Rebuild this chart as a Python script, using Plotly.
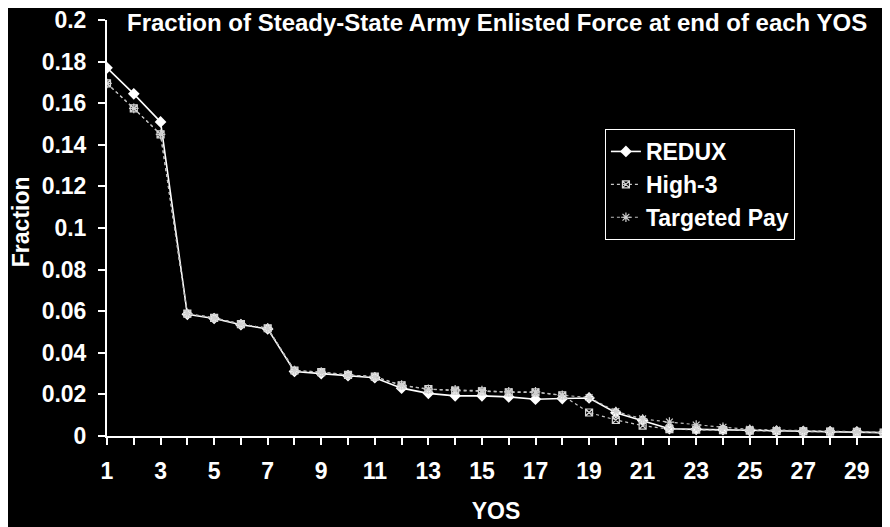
import plotly.graph_objects as go

# YOS categories
yos = list(range(1, 31))

redux = [0.177, 0.1645, 0.151, 0.0585, 0.0565, 0.0535, 0.0515, 0.031, 0.030, 0.029,
         0.028, 0.023, 0.0205, 0.0193, 0.0193, 0.0188, 0.0177, 0.018, 0.0183, 0.0112,
         0.0075, 0.0035, 0.0032, 0.0030, 0.0026, 0.0024, 0.0022, 0.0021, 0.002, 0.0016]
high3 = [0.1695, 0.1575, 0.145, 0.0588, 0.0568, 0.0538, 0.0518, 0.0315, 0.0307, 0.0294,
         0.0285, 0.0243, 0.0225, 0.0218, 0.0215, 0.021, 0.021, 0.0195, 0.0113, 0.0077,
         0.005, 0.0033, 0.003, 0.0028, 0.0026, 0.0024, 0.0022, 0.0021, 0.002, 0.0016]
targeted = [0.1695, 0.1575, 0.145, 0.0588, 0.0568, 0.0538, 0.0518, 0.0315, 0.0307, 0.0294,
            0.0285, 0.0245, 0.0225, 0.0222, 0.0218, 0.0212, 0.0212, 0.0196, 0.0185, 0.0118,
            0.0082, 0.0067, 0.0053, 0.0042, 0.0032, 0.0028, 0.0025, 0.0023, 0.0021, 0.0017]

xtick_text = [str(v) if v % 2 == 1 else "" for v in yos]
ytick_vals = [0, 0.02, 0.04, 0.06, 0.08, 0.1, 0.12, 0.14, 0.16, 0.18, 0.2]
ytick_text = ["0", "0.02", "0.04", "0.06", "0.08", "0.1", "0.12", "0.14", "0.16", "0.18", "0.2"]

FONT = "Liberation Sans, Arial, sans-serif"

fig = go.Figure()

fig.add_trace(go.Scatter(
    x=yos, y=redux, name="REDUX", mode="lines+markers",
    line=dict(color="white", width=1.6),
    marker=dict(symbol="diamond", size=9, color="white"),
))
fig.add_trace(go.Scatter(
    x=yos, y=high3, name="High-3", mode="lines+markers",
    line=dict(color="#c8c8c8", width=1.2, dash="dot"),
    marker=dict(symbol="square-x-open", size=7, color="#d8d8d8", line=dict(width=1.2)),
))
fig.add_trace(go.Scatter(
    x=yos, y=targeted, name="Targeted Pay", mode="lines+markers",
    line=dict(color="#bdbdbd", width=1.2, dash="dot"),
    marker=dict(symbol="asterisk-open", size=8, color="#d0d0d0", line=dict(width=1.2)),
))

# page body has an 8px margin, so the figure is a bit smaller than the window
fig.update_layout(
    width=882, height=519,
    paper_bgcolor="black", plot_bgcolor="black",
    margin=dict(l=99, r=5, t=12, b=91, autoexpand=False),
    font=dict(family=FONT, color="white", size=23, weight="bold"),
    showlegend=True,
    legend=dict(
        x=0.64, y=0.738, xanchor="left", yanchor="top",
        bgcolor="black", bordercolor="white", borderwidth=1,
        font=dict(family=FONT, size=23, color="white", weight="bold"),
        itemwidth=30, tracegroupgap=0,
    ),
    annotations=[
        dict(
            text="Fraction of Steady-State Army Enlisted Force at end of each YOS",
            xref="paper", yref="paper", x=0.501, y=0.995,
            xanchor="center", yanchor="middle", showarrow=False,
            font=dict(family=FONT, size=24, color="white", weight="bold"),
        ),
        dict(
            text="Fraction", textangle=-90,
            xref="paper", yref="paper", x=-0.1105, y=0.514,
            xanchor="center", yanchor="middle", showarrow=False,
            font=dict(family=FONT, size=23, color="white", weight="bold"),
        ),
    ],
)

fig.update_xaxes(
    range=[1, 30.05], tickmode="array", tickvals=yos, ticktext=xtick_text,
    showgrid=False, zeroline=False, automargin=False,
    showline=True, linecolor="white", linewidth=2,
    ticks="outside", ticklen=7, tickcolor="white", tickwidth=2,
    ticklabelstandoff=6, ticklabeloverflow="allow",
    tickfont=dict(size=23),
    title=dict(text="YOS", font=dict(size=23), standoff=20),
)
fig.update_yaxes(
    range=[0, 0.2], tickmode="array", tickvals=ytick_vals, ticktext=ytick_text,
    showgrid=False, zeroline=False, automargin=False,
    showline=True, linecolor="white", linewidth=2,
    ticks="outside", ticklen=7, tickcolor="white", tickwidth=2,
    ticklabelstandoff=7, ticklabeloverflow="allow",
    tickfont=dict(size=23),
)

fig.write_html("out.html")
